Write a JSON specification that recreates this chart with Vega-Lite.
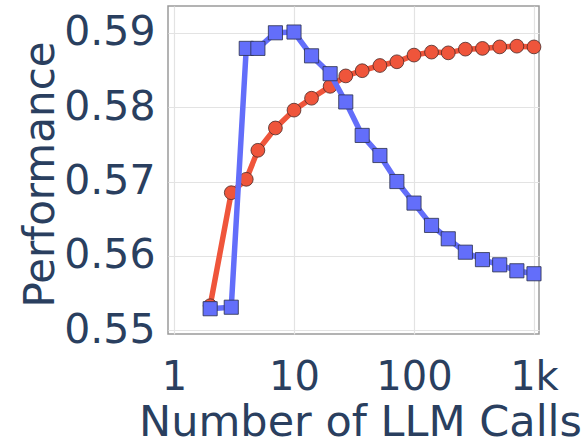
{
  "$schema": "https://vega.github.io/schema/vega-lite/v6.json",
  "width": 371,
  "height": 328,
  "autosize": {"type": "none"},
  "padding": {"left": 168, "top": 6, "right": 46, "bottom": 112},
  "background": "white",
  "config": {
    "view": {"stroke": "#9a9a9a", "strokeWidth": 1.5},
    "font": "DejaVu Sans",
    "axis": {
      "domain": false,
      "ticks": false,
      "tickSize": 0,
      "gridColor": "#e3e3e3",
      "gridWidth": 1.2,
      "labelColor": "#2a3f5f",
      "titleColor": "#2a3f5f",
      "labelFont": "DejaVu Sans",
      "titleFont": "DejaVu Sans",
      "titleFontWeight": "normal"
    }
  },
  "data": {
    "values": [
      {"calls": 2, "perf": 0.5533, "method": "Vote"},
      {"calls": 3, "perf": 0.5685, "method": "Vote"},
      {"calls": 4, "perf": 0.5703, "method": "Vote"},
      {"calls": 5, "perf": 0.5742, "method": "Vote"},
      {"calls": 7, "perf": 0.5772, "method": "Vote"},
      {"calls": 10, "perf": 0.5796, "method": "Vote"},
      {"calls": 14, "perf": 0.5812, "method": "Vote"},
      {"calls": 20, "perf": 0.5828, "method": "Vote"},
      {"calls": 27, "perf": 0.5842, "method": "Vote"},
      {"calls": 37, "perf": 0.5849, "method": "Vote"},
      {"calls": 52, "perf": 0.5856, "method": "Vote"},
      {"calls": 72, "perf": 0.5861, "method": "Vote"},
      {"calls": 100, "perf": 0.587, "method": "Vote"},
      {"calls": 140, "perf": 0.5874, "method": "Vote"},
      {"calls": 193, "perf": 0.5873, "method": "Vote"},
      {"calls": 268, "perf": 0.5878, "method": "Vote"},
      {"calls": 372, "perf": 0.5879, "method": "Vote"},
      {"calls": 518, "perf": 0.5881, "method": "Vote"},
      {"calls": 720, "perf": 0.5882, "method": "Vote"},
      {"calls": 1000, "perf": 0.5881, "method": "Vote"},
      {"calls": 2, "perf": 0.5529, "method": "Filter-Vote"},
      {"calls": 3, "perf": 0.5531, "method": "Filter-Vote"},
      {"calls": 4, "perf": 0.5879, "method": "Filter-Vote"},
      {"calls": 5, "perf": 0.5879, "method": "Filter-Vote"},
      {"calls": 7, "perf": 0.59, "method": "Filter-Vote"},
      {"calls": 10, "perf": 0.5901, "method": "Filter-Vote"},
      {"calls": 14, "perf": 0.5869, "method": "Filter-Vote"},
      {"calls": 20, "perf": 0.5845, "method": "Filter-Vote"},
      {"calls": 27, "perf": 0.5807, "method": "Filter-Vote"},
      {"calls": 37, "perf": 0.5762, "method": "Filter-Vote"},
      {"calls": 52, "perf": 0.5735, "method": "Filter-Vote"},
      {"calls": 72, "perf": 0.57, "method": "Filter-Vote"},
      {"calls": 100, "perf": 0.5671, "method": "Filter-Vote"},
      {"calls": 140, "perf": 0.5641, "method": "Filter-Vote"},
      {"calls": 193, "perf": 0.5623, "method": "Filter-Vote"},
      {"calls": 268, "perf": 0.5605, "method": "Filter-Vote"},
      {"calls": 372, "perf": 0.5595, "method": "Filter-Vote"},
      {"calls": 518, "perf": 0.5588, "method": "Filter-Vote"},
      {"calls": 720, "perf": 0.558, "method": "Filter-Vote"},
      {"calls": 1000, "perf": 0.5576, "method": "Filter-Vote"}
    ]
  },
  "encoding": {
    "x": {
      "field": "calls",
      "type": "quantitative",
      "scale": {"type": "log", "domain": [0.891, 1101], "nice": false},
      "axis": {
        "title": "Number of LLM Calls",
        "values": [1, 10, 100, 1000],
        "labelExpr": "datum.value >= 1000 ? '1k' : datum.label",
        "labelFontSize": 40,
        "labelBaseline": "alphabetic",
        "labelPadding": 55,
        "labelFlush": false,
        "labelOverlap": false,
        "titleFontSize": 43,
        "titleX": 192,
        "titleY": 101,
        "titleBaseline": "alphabetic",
        "titleAlign": "center",
        "titleAnchor": null
      }
    },
    "y": {
      "field": "perf",
      "type": "quantitative",
      "scale": {"domain": [0.5495, 0.5936], "nice": false, "zero": false},
      "axis": {
        "title": "Performance",
        "values": [0.55, 0.56, 0.57, 0.58, 0.59],
        "format": ".2f",
        "labelFontSize": 41,
        "labelPadding": 13,
        "labelBaseline": "middle",
        "labelFlush": false,
        "labelOverlap": false,
        "titleFontSize": 42,
        "titleX": -115,
        "titleY": 168,
        "titleAngle": 270,
        "titleBaseline": "alphabetic",
        "titleAlign": "center"
      }
    }
  },
  "layer": [
    {
      "transform": [{"filter": "datum.method === 'Vote'"}],
      "mark": {"type": "line", "color": "#EF553B", "strokeWidth": 5.5}
    },
    {
      "transform": [{"filter": "datum.method === 'Vote'"}],
      "mark": {"type": "point", "shape": "circle", "filled": true, "color": "#EF553B", "opacity": 1, "size": 190, "stroke": "#4a2a28", "strokeWidth": 1, "strokeOpacity": 0.8}
    },
    {
      "transform": [{"filter": "datum.method === 'Filter-Vote'"}],
      "mark": {"type": "line", "color": "#636EFA", "strokeWidth": 5.5}
    },
    {
      "transform": [{"filter": "datum.method === 'Filter-Vote'"}],
      "mark": {"type": "point", "shape": "square", "filled": true, "color": "#636EFA", "opacity": 1, "size": 200, "stroke": "#2a2f4a", "strokeWidth": 1, "strokeOpacity": 0.8}
    }
  ]
}
